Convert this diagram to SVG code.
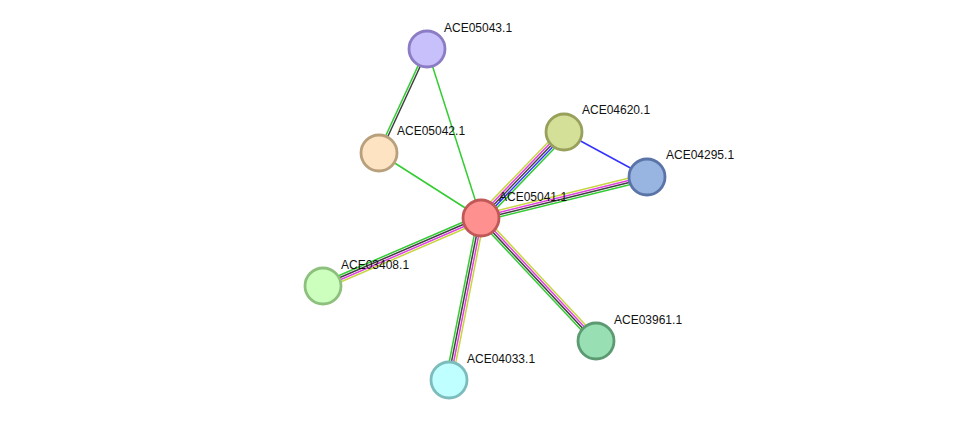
<svg xmlns="http://www.w3.org/2000/svg" width="975" height="426" viewBox="0 0 975 426">
<style>
.e line{stroke-width:1.5;fill:none}
.g{stroke:#33cc33}
.y{stroke:#c6d640}
.m{stroke:#e040e0}
.k{stroke:#404040}
.b{stroke:#3333ff}
.n circle{stroke-width:2.8}
text{font-family:"Liberation Sans",Arial,sans-serif;font-size:12px;fill:#111}
</style>
<rect width="975" height="426" fill="#ffffff"/>
<g id="connectors" class="e">
  <g transform="translate(481,218) rotate(-46)">
    <line class="y" x1="0" y1="-4.4" x2="119.5" y2="-4.4"/>
    <line class="m" x1="0" y1="-2.2" x2="119.5" y2="-2.2"/>
    <line class="k" x1="0" y1="0" x2="119.5" y2="0"/>
    <line class="b" x1="0" y1="2.2" x2="119.5" y2="2.2"/>
    <line class="g" x1="0" y1="4.4" x2="119.5" y2="4.4"/>
  </g>
  <g transform="translate(481,218) rotate(-13.87)">
    <line class="y" x1="0" y1="-3.3" x2="171" y2="-3.3"/>
    <line class="m" x1="0" y1="-1.1" x2="171" y2="-1.1"/>
    <line class="k" x1="0" y1="1.1" x2="171" y2="1.1"/>
    <line class="g" x1="0" y1="3.3" x2="171" y2="3.3"/>
  </g>
  <g transform="translate(323,286) rotate(-23.28)">
    <line class="g" x1="0" y1="-3.3" x2="172" y2="-3.3"/>
    <line class="k" x1="0" y1="-1.1" x2="172" y2="-1.1"/>
    <line class="m" x1="0" y1="1.1" x2="172" y2="1.1"/>
    <line class="y" x1="0" y1="3.3" x2="172" y2="3.3"/>
  </g>
  <g transform="translate(449,380) rotate(-78.83)">
    <line class="g" x1="0" y1="-3.3" x2="165.1" y2="-3.3"/>
    <line class="k" x1="0" y1="-1.1" x2="165.1" y2="-1.1"/>
    <line class="m" x1="0" y1="1.1" x2="165.1" y2="1.1"/>
    <line class="y" x1="0" y1="3.3" x2="165.1" y2="3.3"/>
  </g>
  <g transform="translate(481,218) rotate(46.92)">
    <line class="g" x1="0" y1="3.3" x2="168.4" y2="3.3"/>
    <line class="k" x1="0" y1="1.1" x2="168.4" y2="1.1"/>
    <line class="m" x1="0" y1="-1.1" x2="168.4" y2="-1.1"/>
    <line class="y" x1="0" y1="-3.3" x2="168.4" y2="-3.3"/>
  </g>
  <g transform="translate(379,153) rotate(-65.22)">
    <line class="g" x1="0" y1="-1.1" x2="114.5" y2="-1.1"/>
    <line class="k" x1="0" y1="1.1" x2="114.5" y2="1.1"/>
  </g>
  <line class="g" x1="427" y1="49" x2="481" y2="218"/>
  <line class="g" x1="379" y1="153" x2="481" y2="218"/>
  <line class="b" x1="564" y1="132" x2="647" y2="177"/>
</g>
<g id="ACE05043.1" class="n">
  <circle cx="427" cy="49" r="18" fill="#c8c0fa" stroke="#8c7cc4"/>
  <text x="444" y="32">ACE05043.1</text>
</g>
<g id="ACE05042.1" class="n">
  <circle cx="379" cy="153" r="18" fill="#fee3c2" stroke="#b8a07c"/>
  <text x="397" y="135">ACE05042.1</text>
</g>
<g id="ACE04620.1" class="n">
  <circle cx="564" cy="132" r="18" fill="#d4df98" stroke="#98a05c"/>
  <text x="582" y="114">ACE04620.1</text>
</g>
<g id="ACE04295.1" class="n">
  <circle cx="647" cy="177" r="18" fill="#98b4e0" stroke="#5a74a8"/>
  <text x="666" y="159">ACE04295.1</text>
</g>
<g id="ACE05041.1" class="n">
  <circle cx="481" cy="218" r="18" fill="#ff9090" stroke="#c05858"/>
  <text x="499" y="201">ACE05041.1</text>
</g>
<g id="ACE03408.1" class="n">
  <circle cx="323" cy="286" r="18" fill="#ccffbe" stroke="#8cc07c"/>
  <text x="341" y="269">ACE03408.1</text>
</g>
<g id="ACE03961.1" class="n">
  <circle cx="596" cy="341" r="18" fill="#98e0b4" stroke="#5c9a72"/>
  <text x="614" y="324">ACE03961.1</text>
</g>
<g id="ACE04033.1" class="n">
  <circle cx="449" cy="380" r="18" fill="#c0ffff" stroke="#7cbcbc"/>
  <text x="467" y="363">ACE04033.1</text>
</g>
</svg>
